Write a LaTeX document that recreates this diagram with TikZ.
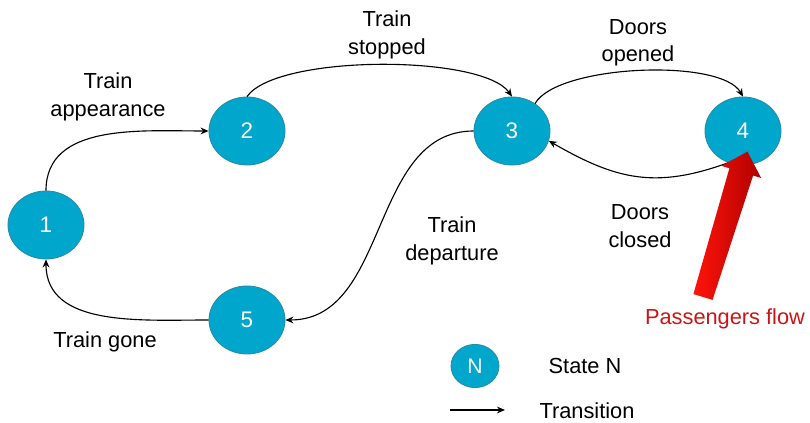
\documentclass[tikz,border=0pt]{standalone}
\usepackage{fontspec}
\setmainfont{Liberation Sans}
\usetikzlibrary{arrows.meta,shapes.geometric}

\definecolor{statefill}{RGB}{0,166,204}
\definecolor{stateedge}{RGB}{40,140,165}
\definecolor{flowdark}{RGB}{175,0,0}
\definecolor{flowlight}{RGB}{255,20,10}
\definecolor{flowtext}{RGB}{205,20,20}

\begin{document}
\begin{tikzpicture}[
        state/.style={ellipse, draw=stateedge, fill=statefill, line width=0.6pt,
            text=white, minimum width=1.9cm, minimum height=1.7cm,
            font=\fontsize{16}{18}\selectfont},
        trans/.style={-{Stealth[length=2mm,width=1.7mm]}, line width=0.8pt},
        lbl/.style={align=center, font=\fontsize{15.5}{19.5}\selectfont}
    ]
        \useasboundingbox (0,0) rectangle (20.25,10.575);

        % states
        \node[state] (1) at (1.15,4.95) {1};
        \node[state] (2) at (6.175,7.3) {2};
        \node[state] (3) at (12.8,7.3) {3};
        \node[state] (4) at (18.575,7.3) {4};
        \node[state] (5) at (6.175,2.575) {5};

        % transitions
        \draw[trans] (1.north) to[out=90, in=180] (2.west);
        \draw[trans] (2.north) to[out=55, in=125, looseness=0.5] (3.north);
        \draw[trans] (3.50) to[out=60, in=120, looseness=0.55] (4.north);
        \draw[trans] (4.245) to[out=200, in=-30, looseness=1.1] (3.-15);
        \draw[trans] (3.west) to[out=180, in=0] (5.east);
        \draw[trans] (5.west) to[out=180, in=-90] (1.south);

        \node[lbl] (appear) at (2.7,8.15) {Train\\appearance};
        \node[lbl] (stop) at (9.675,9.7) {Train\\stopped};
        \node[lbl] (open) at (15.95,9.5) {Doors\\opened};
        \node[lbl] (close) at (16.0,4.925) {Doors\\closed};
        \node[lbl] (depart) at (11.3,4.55) {Train\\departure};
        \node[lbl] (gone) at (2.625,2.025) {Train gone};

        % passengers flow
        \begin{scope}[shift={(17.575,3.15)}, rotate=73]
            \shade[left color=flowlight, right color=flowdark]
                (0,-0.25) -- (3.27,-0.31) -- (3.27,-0.52) -- (3.8,0)
                -- (3.27,0.52) -- (3.27,0.31) -- (0,0.25) -- cycle;
        \end{scope}
        \node[lbl, text=flowtext] (flow) at (18.125,2.6) {Passengers flow};

        % legend
        \node[state, minimum width=1.2cm, minimum height=1.08cm,
            font=\fontsize{15}{17}\selectfont] (N) at (11.875,1.425) {N};
        \node[lbl] (stateN) at (14.625,1.425) {State N};
        \coordinate (ta) at (11.25,0.325);
        \coordinate (tb) at (12.625,0.325);
        \draw[trans] (ta) -- (tb);
        \node[lbl] (transition) at (14.675,0.3) {Transition};
\end{tikzpicture}
\end{document}
